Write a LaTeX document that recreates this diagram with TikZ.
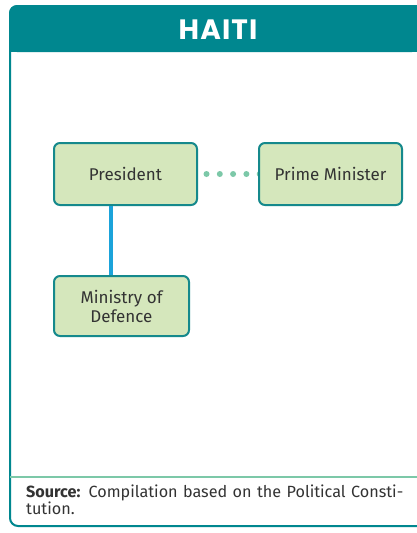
\documentclass[tikz,border=0pt]{standalone}
\usepackage{fontspec}
\usetikzlibrary{backgrounds}
\setmainfont{Fira Sans}
\newfontfamily\titlefont[LetterSpace=4]{Poppins}
\definecolor{teal1}{HTML}{00878F}
\definecolor{boxfill}{HTML}{D5E7BC}
\definecolor{boxline}{HTML}{15898C}
\definecolor{dotc}{HTML}{7CC8A8}
\definecolor{bluec}{HTML}{1BA3DA}
\definecolor{textc}{HTML}{333333}
\begin{document}
\begin{tikzpicture}[x=1pt,y=-1pt,
  orgbox/.style={draw=boxline,line width=2pt,fill=boxfill,rounded corners=6pt,align=center,text=textc,font=\fontsize{17}{19}\selectfont,inner sep=0pt}]
\useasboundingbox (0,0) rectangle (416,533);
\begin{scope}[on background layer]
\fill[white] (0,0) rectangle (416,533);
\end{scope}
% frame
\draw[teal1,line width=2pt,rounded corners=8pt] (420,526) -- (10,526) -- (10,6) -- (420,6);
\fill[teal1,rounded corners=8pt] (9,5) -- (9,52) -- (420,52) -- (420,5) -- cycle;
\fill[teal1] (9,30) rectangle (420,52);
\node[text=white,font=\titlefont\bfseries\fontsize{28}{30}\selectfont] (title) at (218,30) {HAITI};
\draw[dotc,line width=1.5pt] (10,477) -- (420,477);
% boxes
\node[orgbox,minimum width=143pt,minimum height=62pt] (pres) at (125.5,174) {President};
\node[orgbox,minimum width=143pt,minimum height=62pt] (pm) at (330.5,174) {Prime Minister};
\node[orgbox,minimum width=135pt,minimum height=60pt] (mod) at (121.5,306) {Ministry of\\Defence};
\draw[bluec,line width=4pt] (pres.south -| 111,0) -- (mod.north -| 111,0);
\begin{scope}[on background layer]
\draw[dotc,line width=6pt,line cap=round,dash pattern=on 0pt off 13.3pt] ([xshift=8.5pt]pres.east) -- ([xshift=2pt]pm.west);
\end{scope}
\node[anchor=north west,align=left,text=textc,font=\fontsize{16.2}{17}\selectfont,inner sep=0pt,text width=400pt] (src) at (26,485) {\textbf{Source:} Compilation based on the Political Consti-\\tution.};
\end{tikzpicture}
\end{document}
